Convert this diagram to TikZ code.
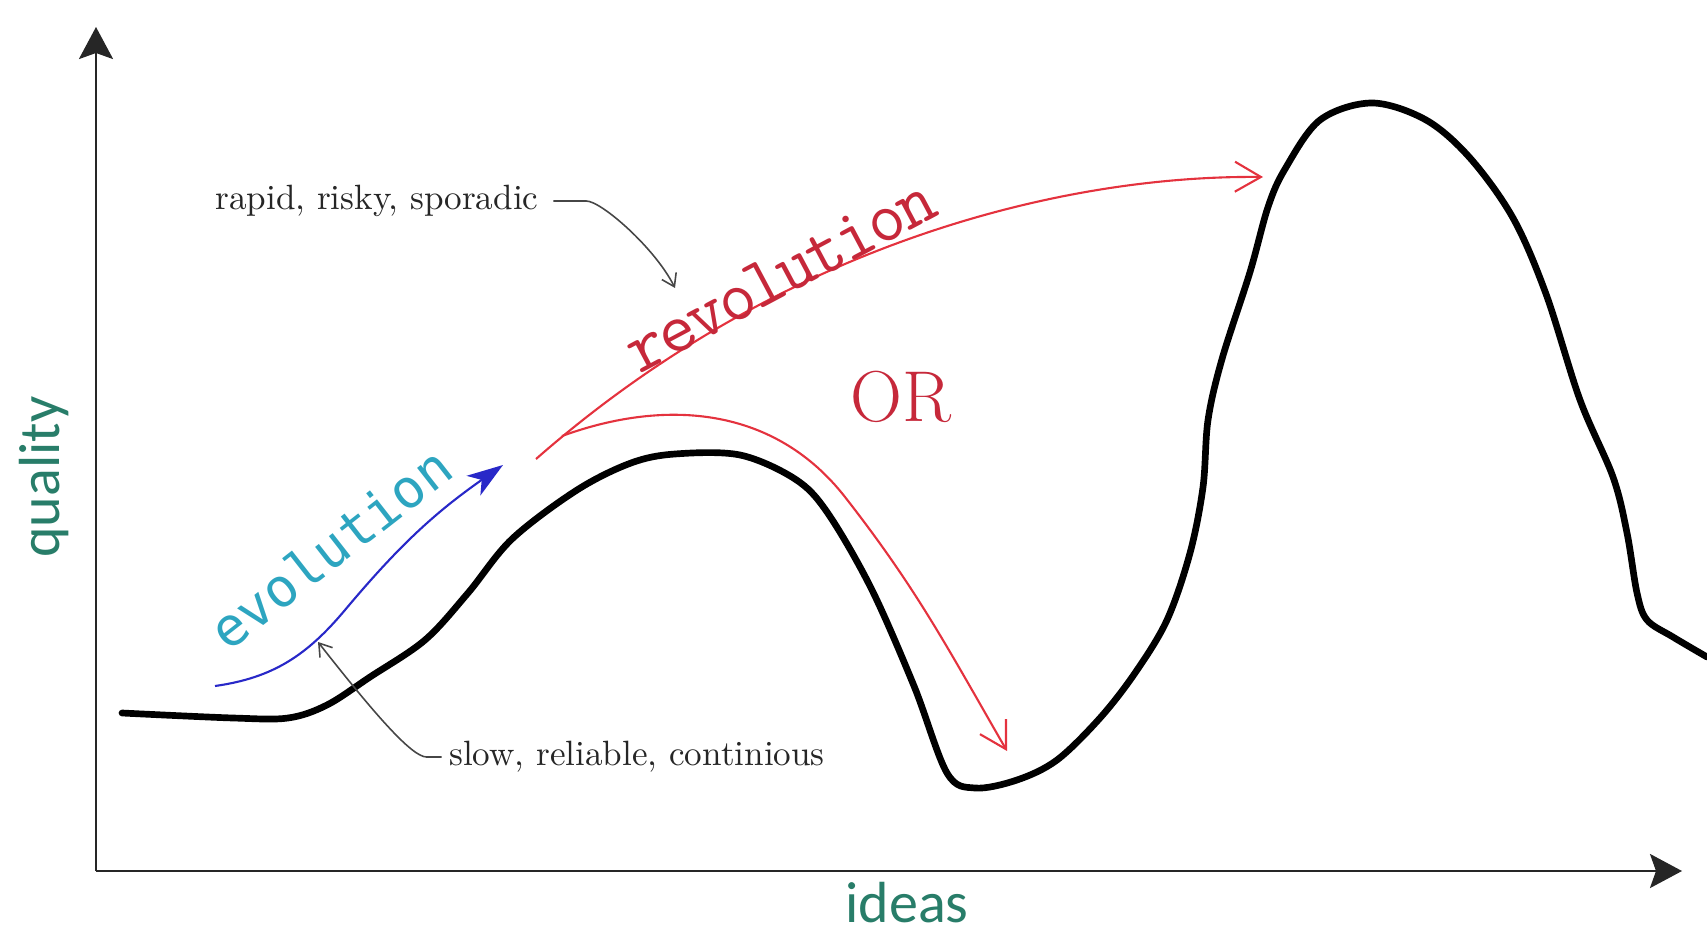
\documentclass[tikz,border=0pt]{standalone}
\usepackage{fontspec}
\usepackage{tikz}
\usetikzlibrary{arrows.meta}

\newfontfamily\axisfont{Carlito}
\newfontfamily\evofont{DejaVu Sans Mono}
\newfontfamily\revfont[LetterSpace=-4.5]{Latin Modern Mono}

\definecolor{axisgreen}{RGB}{40,125,105}
\definecolor{revred}{RGB}{228,50,62}
\definecolor{revtextred}{RGB}{198,40,58}
\definecolor{evoteal}{RGB}{45,165,192}
\definecolor{evoblue}{RGB}{40,40,200}
\definecolor{notegray}{RGB}{70,70,70}

\tikzset{
  axisline/.style={line width=0.8pt, draw=black!85, -{Stealth[length=0.32cm,width=0.34cm,inset=0.06cm]}},
  ridge/.style={line width=1.9pt, line join=round, line cap=round},
  revline/.style={revred, line width=0.6pt, -{Straight Barb[length=0.26cm,width=0.3cm]}},
  evoline/.style={evoblue, line width=0.6pt, -{Stealth[length=0.36cm,width=0.24cm,inset=0.1cm]}},
  noteline/.style={notegray, line width=0.45pt, -{Straight Barb[length=0.12cm,width=0.16cm]}},
  notetext/.style={inner sep=1pt, text=black!85, font=\fontsize{10}{12}\selectfont},
  axislabel/.style={inner sep=0pt, text=axisgreen, font=\axisfont\fontsize{16.5}{18}\selectfont},
  revtext/.style={inner sep=0pt, text=revtextred, font=\revfont\fontsize{20.5}{22}\selectfont},
  ortext/.style={inner sep=1pt, text=revtextred, font=\rmfamily\fontsize{20.5}{22}\selectfont},
  evotext/.style={inner sep=1pt, text=evoteal, font=\evofont\fontsize{15.2}{17}\selectfont},
}

\begin{document}
\begin{tikzpicture}
    \useasboundingbox (0,0) rectangle (17.07,9.35);

    % Draw the axes
    \coordinate (O) at (0.96,0.64);
    \coordinate (ytip) at (0.96,9.08);
    \coordinate (xtip) at (16.82,0.64);
    \draw[axisline] (O) -- (ytip);
    \draw[axisline] (O) -- (xtip);

    % Label the axes
    \node[axislabel, rotate=90] (quality) at (0.44,4.58) {quality};
    \node[axislabel] (ideas) at (9.07,0.32) {ideas};

    % Draw the quality landscape
    \draw[ridge] plot[smooth, tension=0.55] coordinates {
        (1.22,2.22) (2.33,2.17) (2.88,2.17) (3.27,2.30) (3.70,2.58) (4.25,2.95)
        (4.68,3.42) (5.12,3.96) (5.77,4.45) (6.31,4.72) (6.75,4.81) (7.40,4.80)
        (7.95,4.56) (8.27,4.23) (8.71,3.47) (9.14,2.49) (9.47,1.62) (9.75,1.47)
        (10.17,1.55) (10.57,1.75) (11.00,2.17) (11.35,2.62) (11.67,3.15) (11.90,3.82)
        (12.03,4.48) (12.08,5.15) (12.22,5.76) (12.50,6.63) (12.68,7.28) (12.85,7.66)
        (13.20,8.15) (13.72,8.32) (14.26,8.15) (14.70,7.77) (15.13,7.17) (15.46,6.41)
        (15.80,5.35) (16.13,4.58) (16.27,4.02) (16.37,3.42) (16.47,3.15) (16.73,2.98)
        (17.07,2.78)};

    % Evolution: small steps up the hill
    \coordinate (evoStart) at (2.15,2.49);
    \coordinate (evoEnd) at (5.03,4.70);
    \draw[evoline] (evoStart) to[out=8, in=-130] (3.45,3.25) to[out=50, in=-145] (evoEnd);
    \node[evotext, rotate=38] (evolabel) at (3.30,3.87) {evolution};

    % Revolution: a jump to the next hill, or a fall
    \coordinate (revStart) at (5.36,4.76);
    \coordinate (revEnd) at (12.63,7.58);
    \coordinate (orStart) at (5.62,4.99);
    \coordinate (orBend) at (8.45,4.38);
    \coordinate (orEnd) at (10.07,1.84);
    \draw[revline] (revStart) .. controls (7.8,6.9) and (10.6,7.6) .. (revEnd);
    \draw[revline] (orStart) to[out=20, in=128] (orBend) to[out=-52, in=120] (orEnd);
    \node[revtext, rotate=28] (revlabel) at (7.80,6.60) {revolution};
    \node[ortext] (orlabel) at (9.01,5.38) {OR};

    % Notes
    \node[notetext] (rapid) at (3.77,7.34) {rapid, risky, sporadic};
    \node[notetext] (slow) at (6.37,1.78) {slow, reliable, continious};
    \coordinate (rapidTip) at (6.75,6.47);
    \coordinate (slowTip) at (3.18,2.93);
    \draw[noteline] ([xshift=3pt]rapid.east) -- ++(0.33,0)
        .. controls +(0.15,0) and +(-0.2,0.4) .. (rapidTip);
    \draw[noteline] ([xshift=-1pt]slow.west) -- ++(-0.15,0)
        .. controls +(-0.15,0) and +(0.55,-0.7) .. (slowTip);
\end{tikzpicture}
\end{document}
